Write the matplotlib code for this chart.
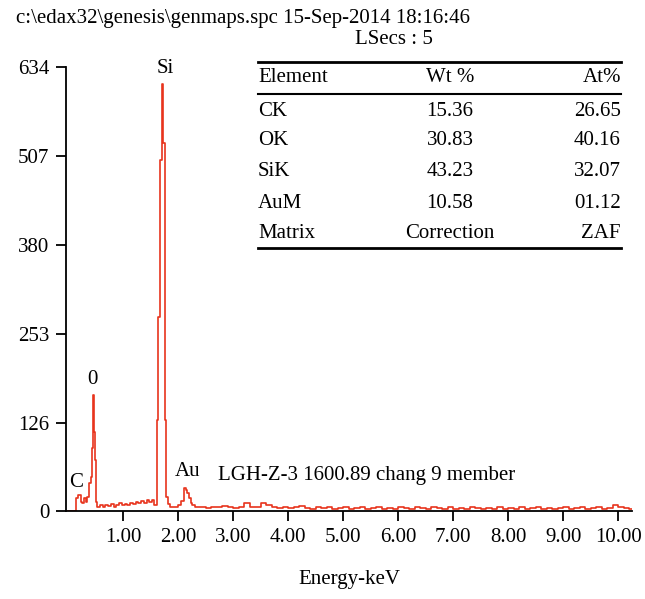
import numpy as np
import matplotlib
matplotlib.use("Agg")
import matplotlib.pyplot as plt

plt.rcParams['font.family'] = ['Liberation Serif', 'DejaVu Serif']

# spectrum, low energy part (bin left edge keV, counts)
low_e = [0.00, 0.14, 0.18, 0.23, 0.25, 0.30, 0.33, 0.34, 0.39, 0.41, 0.43, 0.45, 0.48, 0.50, 0.51, 0.53]
low_counts = [0, 18, 23, 13, 11, 18, 13, 20, 40, 49, 90, 166, 113, 73, 13, 6]

# between O and Si
mid_e = [0.58, 0.63, 0.68, 0.73, 0.78, 0.83, 0.88, 0.93, 0.98, 1.03, 1.08, 1.13, 1.18,
         1.23, 1.28, 1.33, 1.38, 1.43, 1.48, 1.53, 1.57]
mid_counts = [8, 5, 9, 7, 10, 6, 9, 11, 8, 10, 9, 12, 10, 13, 11, 14, 12, 15, 13, 16, 9]

# Si peak and Au bump
si_e = [1.625, 1.645, 1.673, 1.70, 1.73, 1.76, 1.79, 1.82, 1.86, 1.93, 2.00, 2.06, 2.10,
        2.14, 2.17, 2.20, 2.23, 2.26]
si_counts = [130, 277, 501, 610, 525, 130, 20, 10, 5, 6, 8, 14, 33, 30, 26, 19, 12, 8]

# background from 2.3 keV, 0.1 keV bins
bg_start = 2.3
bg_counts = [6, 5, 4, 6, 5, 7, 5, 4, 6, 12, 5, 6,
             11, 9, 5, 4, 6, 4, 5, 7, 4, 3, 5, 4, 6, 3, 4,
             5, 3, 4, 6, 3, 4, 5, 3, 4, 3, 6, 4, 3, 5, 4,
             3, 5, 4, 3, 6, 3, 4, 3, 5, 4, 3, 4, 3, 5, 3,
             4, 3, 5, 3, 4, 6, 3, 4, 3, 4, 5, 3, 4, 6, 3,
             4, 5, 3, 4, 9, 5, 4, 3]

yticks = [0, 126, 253, 380, 507, 634]
xticks = [1, 2, 3, 4, 5, 6, 7, 8, 9, 10]

peak_labels = [("C", 0.18, 23), ("0", 0.45, 166), ("Si", 1.71, 610), ("Au", 2.14, 33)]

header = ["Element", "Wt %", "At%"]
elements = ["CK", "OK", "SiK", "AuM", "Matrix"]
wt = ["15.36", "30.83", "43.23", "10.58", "Correction"]
at = ["26.65", "40.16", "32.07", "01.12", "ZAF"]

bg_e = list(np.round(bg_start + 0.1 * np.arange(len(bg_counts)), 2))
edges = low_e + mid_e + si_e + bg_e + [bg_e[-1] + 0.1]
counts = low_counts + mid_counts + si_counts + bg_counts
counts = counts + [counts[-1]]

fs = 15
fig = plt.figure(figsize=(6.45, 5.99), dpi=100)
ax = fig.add_axes([66 / 645, 88 / 599, (632 - 66) / 645, 444 / 599])
red = '#e8341c'
ax.step(edges, counts, where='post', color=red, lw=1.2)

ax.set_xlim(-0.036, 10.25)
ax.set_ylim(0, 634)
ax.set_yticks(yticks)
ax.set_yticklabels([str(v) for v in yticks])
ax.set_xticks(xticks)
ax.set_xticklabels(["%.2f" % v for v in xticks])
for s in ['top', 'right']:
    ax.spines[s].set_visible(False)
for s in ['left', 'bottom']:
    ax.spines[s].set_linewidth(1.3)
ax.tick_params(direction='out', length=7, width=1.3, labelsize=fs, pad=5)
ax.set_xlabel("Energy-keV", fontsize=fs, labelpad=17)

offs = {"C": (-1, 2), "0": (0, 4), "Si": (2, 4), "Au": (1, 5)}
for lab, e, c in peak_labels:
    dx, dy = offs[lab]
    ax.annotate(lab, (e, c), xytext=(dx, dy), textcoords='offset points',
                ha='center', va='bottom', fontsize=fs)
ax.text(2.73, 50, "LGH-Z-3 1600.89 chang 9 member", fontsize=fs, va='center')

# header text
def fy(p):
    return 1 - p / 599

fig.text(16 / 645, fy(18), r"c:\edax32\genesis\genmaps.spc 15-Sep-2014 18:16:46",
         fontsize=fs, va='center')
fig.text(355 / 645, fy(40), "LSecs : 5", fontsize=fs, va='center')

# table
tx0, tx1 = 258 / 645, 621 / 645
wx = 450 / 645
for yy, lw in [(62, 2.0), (94, 1.5), (248, 2.0)]:
    fig.add_artist(plt.Line2D([tx0, tx1], [fy(yy), fy(yy)], color='black', lw=lw))
fig.text(tx0, fy(77), header[0], fontsize=fs, va='center')
fig.text(wx, fy(77), header[1], fontsize=fs, va='center', ha='center')
fig.text(tx1, fy(77), header[2], fontsize=fs, va='center', ha='right')
row_y = [112, 141, 172, 203, 234]
for i in range(len(elements)):
    fig.text(tx0, fy(row_y[i]), elements[i], fontsize=fs, va='center')
    fig.text(wx, fy(row_y[i]), wt[i], fontsize=fs, va='center', ha='center')
    fig.text(tx1, fy(row_y[i]), at[i], fontsize=fs, va='center', ha='right')

fig.savefig("out.png", dpi=100)
